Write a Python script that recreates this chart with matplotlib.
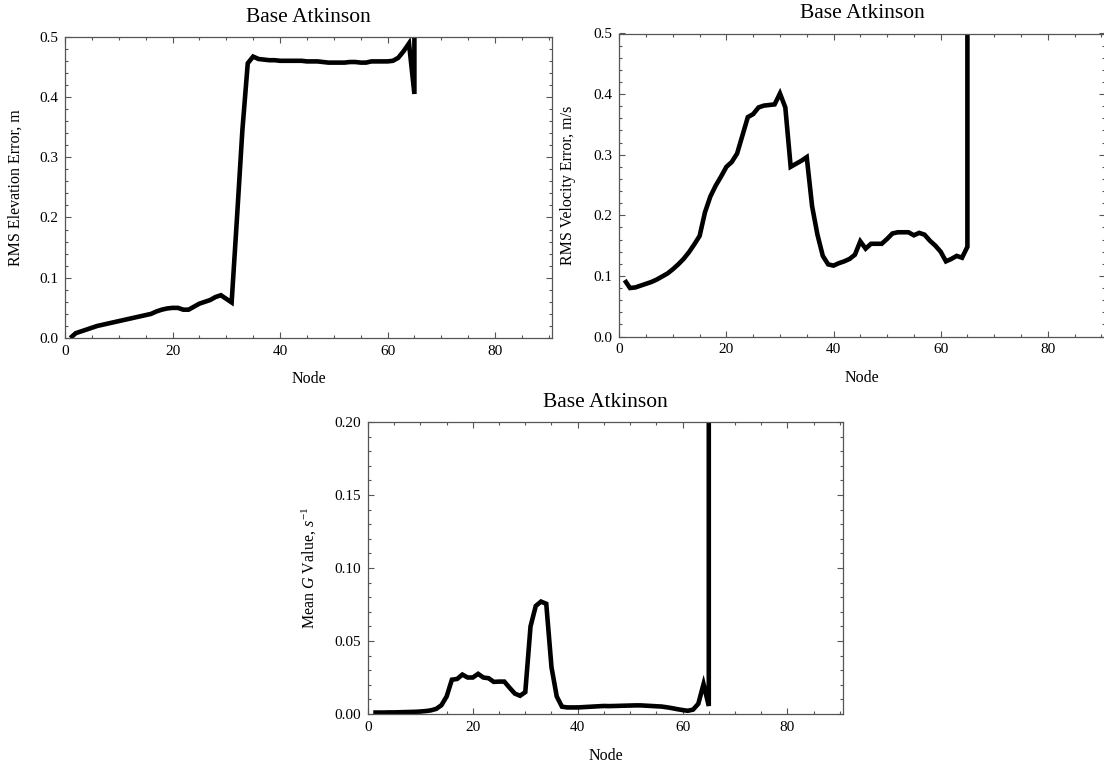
import matplotlib
matplotlib.use("Agg")
import matplotlib.pyplot as plt
from matplotlib.ticker import MultipleLocator

plt.rcParams['font.family'] = ['Liberation Serif', 'DejaVu Serif']
plt.rcParams['mathtext.fontset'] = 'custom'
plt.rcParams['mathtext.rm'] = 'Liberation Serif'
plt.rcParams['mathtext.it'] = 'Liberation Serif:italic'

# ---------------- data ----------------
nodes = list(range(1, 66)) + [65]

elev_err = [0.000, 0.008, 0.011, 0.014, 0.017, 0.020, 0.022, 0.024, 0.026, 0.028,
            0.030, 0.032, 0.034, 0.036, 0.038, 0.040, 0.044, 0.047, 0.049, 0.050,
            0.050, 0.047, 0.047, 0.052, 0.057, 0.060, 0.063, 0.068, 0.071, 0.065,
            0.059, 0.200, 0.345, 0.456, 0.467, 0.463, 0.462, 0.461, 0.461, 0.460,
            0.460, 0.460, 0.460, 0.460, 0.459, 0.459, 0.459, 0.458, 0.457, 0.457,
            0.457, 0.457, 0.458, 0.458, 0.457, 0.457, 0.459, 0.459, 0.459, 0.459,
            0.460, 0.465, 0.476, 0.489, 0.405, 2.0]

vel_err = [0.093, 0.080, 0.081, 0.084, 0.087, 0.090, 0.094, 0.099, 0.104, 0.111,
           0.119, 0.128, 0.139, 0.152, 0.166, 0.205, 0.231, 0.249, 0.264, 0.280,
           0.288, 0.302, 0.332, 0.362, 0.367, 0.378, 0.381, 0.382, 0.383, 0.401,
           0.378, 0.280, 0.285, 0.290, 0.296, 0.215, 0.168, 0.133, 0.119, 0.117,
           0.121, 0.124, 0.128, 0.135, 0.157, 0.145, 0.153, 0.153, 0.153, 0.161,
           0.170, 0.172, 0.172, 0.172, 0.167, 0.171, 0.168, 0.158, 0.150, 0.140,
           0.124, 0.128, 0.133, 0.130, 0.148, 2.0]

mean_g = [0.0010, 0.0010, 0.0010, 0.0011, 0.0011, 0.0012, 0.0013, 0.0014, 0.0015, 0.0017,
          0.0020, 0.0025, 0.0035, 0.0060, 0.0120, 0.0235, 0.0240, 0.0270, 0.0250, 0.0250,
          0.0275, 0.0250, 0.0245, 0.0220, 0.0222, 0.0222, 0.0180, 0.0140, 0.0125, 0.0150,
          0.0600, 0.0740, 0.0770, 0.0755, 0.0320, 0.0120, 0.0050, 0.0045, 0.0045, 0.0045,
          0.0047, 0.0049, 0.0051, 0.0053, 0.0055, 0.0054, 0.0055, 0.0056, 0.0057, 0.0058,
          0.0059, 0.0059, 0.0057, 0.0055, 0.0053, 0.0051, 0.0046, 0.0040, 0.0033, 0.0027,
          0.0022, 0.0030, 0.0070, 0.0205, 0.0055, 1.0]

title = "Base Atkinson"
xlabel = "Node"
ylabels = ["RMS Elevation Error, m", "RMS Velocity Error, m/s", r"Mean $G$ Value, $s^{-1}$"]

# ---------------- figure ----------------
W, H = 1104, 765
fig = plt.figure(figsize=(W / 100, H / 100), dpi=100)

def px_axes(left, top, right, bottom):
    return fig.add_axes([left / W, 1 - bottom / H, (right - left) / W, (bottom - top) / H])

specs = [
    # (left, top, right, bottom), series, ylim, ymajor, yminor, fmt, ylabel x, xlabel gap px
    ((65, 36.7, 552, 338), elev_err, 0.5, 0.1, 0.02, '%.1f', -0.084, 33, ylabels[0]),
    ((619.3, 33.5, 1104.5, 336.5), vel_err, 0.5, 0.1, 0.02, '%.1f', -0.089, 33, ylabels[1]),
    ((368, 422, 843, 714), mean_g, 0.2, 0.05, 0.01, '%.2f', -0.103, 34, ylabels[2]),
]

frame_col = '#555555'
for (box, series, ymax, ymaj, ymin, fmt, ylx, xgap, ylab) in specs:
    ax = px_axes(*box)
    ax.plot(nodes, series, color='black', lw=3.3, solid_joinstyle='miter',
            solid_capstyle='butt')
    ax.set_xlim(0, 90.6)
    ax.set_ylim(0, ymax)
    ax.xaxis.set_major_locator(MultipleLocator(20))
    ax.xaxis.set_minor_locator(MultipleLocator(5))
    ax.yaxis.set_major_locator(MultipleLocator(ymaj))
    ax.yaxis.set_minor_locator(MultipleLocator(ymin))
    ax.yaxis.set_major_formatter(matplotlib.ticker.FormatStrFormatter(fmt))
    ax.tick_params(which='both', direction='in', top=True, right=True,
                   color=frame_col, width=0.8, labelsize=11, pad=5)
    ax.tick_params(which='major', length=4.5)
    ax.tick_params(which='minor', length=2.5)
    for s in ax.spines.values():
        s.set_color(frame_col)
        s.set_linewidth(0.9)
    hpx = box[3] - box[1]
    ax.set_xlabel(xlabel, fontsize=11.5)
    ax.xaxis.set_label_coords(0.5, -xgap / hpx)
    ax.set_ylabel(ylab, fontsize=11.5)
    ax.yaxis.set_label_coords(ylx, 0.5)
    ax.text(0.5, 1 + 19.5 / hpx, title, transform=ax.transAxes,
            ha='center', va='center', fontsize=15.5)

fig.savefig('out.png', dpi=100)
